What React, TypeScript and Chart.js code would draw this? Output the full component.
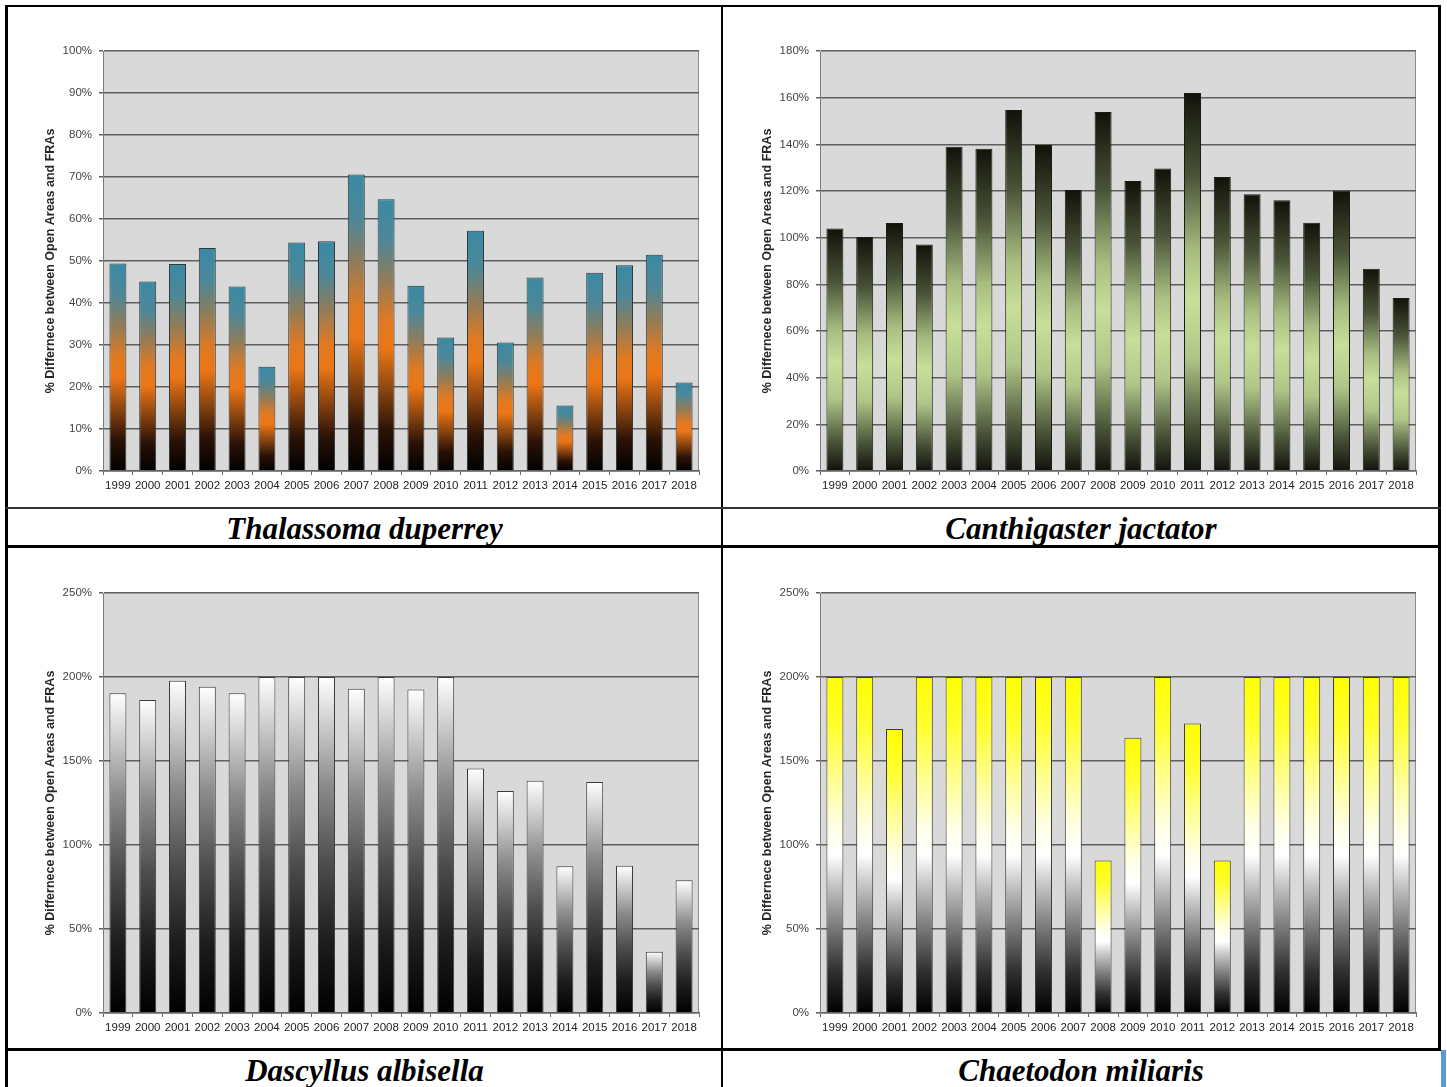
import React, { useEffect, useRef } from 'react';
import { Chart, registerables } from 'chart.js';

Chart.register(...registerables);

const YEARS = ['1999', '2000', '2001', '2002', '2003', '2004', '2005', '2006', '2007', '2008', '2009', '2010', '2011', '2012', '2013', '2014', '2015', '2016', '2017', '2018'];

const THALASSOMA = [49.4, 45.1, 49.3, 53.1, 43.9, 24.8, 54.4, 54.7, 70.6, 64.7, 44.1, 31.8, 57.2, 30.6, 46.1, 15.6, 47.2, 49.0, 51.5, 21.1];
const CANTHIGASTER = [103.9, 100.3, 106.3, 97.1, 139.0, 138.1, 154.7, 139.7, 120.4, 153.9, 124.3, 129.6, 162.0, 126.0, 118.6, 116.0, 106.4, 120.1, 86.7, 74.1];
const DASCYLLUS = [190.4, 186.3, 197.8, 194.2, 190.4, 200, 200, 200, 193.0, 200, 192.6, 200, 145.5, 132.1, 138.3, 87.4, 137.5, 87.6, 36.4, 79.0];
const CHAETODON = [200, 200, 169.0, 200, 200, 200, 200, 200, 200, 90.7, 163.8, 200, 172.3, 90.7, 200, 200, 200, 200, 200, 200];

const Y_TITLE = '% Differnece between Open Areas and FRAs';
const CAPTIONS = ['Thalassoma duperrey', 'Canthigaster jactator', 'Dascyllus albisella', 'Chaetodon miliaris'];
const Y_MAX = [100, 180, 250, 250];
const Y_STEP = [10, 20, 50, 50];

type Stop = [number, string];

const STOPS: Stop[][] = [
  [[0, '#000000'], [0.15, '#2b1206'], [0.3, '#8c450f'], [0.45, '#ec7616'], [0.55, '#e07a22'], [0.7, '#927c58'], [0.85, '#4c8798'], [1, '#3a8aa4']],
  [[0, '#10120c'], [0.12, '#4a5438'], [0.3, '#b0c688'], [0.45, '#c8df9a'], [0.58, '#a8bd80'], [0.78, '#4a5438'], [1, '#111209']],
  [[0, '#000000'], [0.22, '#1e1e1e'], [0.45, '#4e4e4e'], [0.68, '#8c8c8c'], [0.85, '#cacaca'], [1, '#ffffff']],
  [[0, '#000000'], [0.12, '#2e2e2e'], [0.25, '#777777'], [0.38, '#c4c4c4'], [0.47, '#ffffff'], [0.55, '#ffffe8'], [0.7, '#ffff90'], [0.85, '#ffff30'], [1, '#ffff00']],
];

const FONT = "'Liberation Sans', Arial, sans-serif";

const plotBg = {
  id: 'plotBg',
  beforeDraw(chart: any) {
    const { ctx, chartArea } = chart;
    if (!chartArea) return;
    ctx.save();
    ctx.fillStyle = '#d9d9d9';
    ctx.fillRect(chartArea.left, chartArea.top, chartArea.right - chartArea.left, chartArea.bottom - chartArea.top);
    ctx.strokeStyle = '#8c8c8c';
    ctx.lineWidth = 1;
    ctx.beginPath();
    ctx.moveTo(chartArea.right - 0.5, chartArea.top);
    ctx.lineTo(chartArea.right - 0.5, chartArea.bottom);
    ctx.stroke();
    ctx.restore();
  },
};

const makeBg = (stops: Stop[]) => (c: any) => {
  const chart = c.chart;
  const y = chart.scales && chart.scales.y;
  const fallback = stops[Math.floor(stops.length / 2)][1];
  if (!chart.chartArea || !y || c.type !== 'data') return fallback;
  const y0 = y.getPixelForValue(0);
  const y1 = y.getPixelForValue(c.raw);
  if (!isFinite(y0) || !isFinite(y1) || y0 === y1) return fallback;
  const g = chart.ctx.createLinearGradient(0, y0, 0, y1);
  stops.forEach(([o, col]) => g.addColorStop(o, col));
  return g;
};

interface Box { left: number; top: number; width: number; height: number }
interface Area { left: number; top: number; right: number; bottom: number }

function BarChart({ box, area, values, yMax, yStep, stops, borderColor }: { box: Box; area: Area; values: number[]; yMax: number; yStep: number; stops: Stop[]; borderColor: string }) {
  const ref = useRef<HTMLCanvasElement>(null);
  useEffect(() => {
    const canvas = ref.current!;
    const yWidth = area.left - box.left;
    const xHeight = box.top + box.height - area.bottom;
    const chart = new Chart(canvas, {
      type: 'bar',
      data: {
        labels: YEARS,
        datasets: [{
          data: values,
          backgroundColor: makeBg(stops) as any,
          borderColor,
          borderWidth: 1,
          barPercentage: 0.57,
          categoryPercentage: 1,
        }],
      },
      options: {
        animation: false,
        responsive: false,
        maintainAspectRatio: false,
        devicePixelRatio: 1,
        layout: { padding: { top: area.top - box.top, right: box.left + box.width - area.right, left: 0, bottom: 0 } },
        plugins: { legend: { display: false }, tooltip: { enabled: false } },
        scales: {
          x: {
            grid: { display: true, drawOnChartArea: false, drawTicks: true, tickLength: 4, color: '#666666', lineWidth: 1, offset: true },
            border: { display: true, color: '#666666', width: 1.5 },
            ticks: { font: { family: "'Liberation Sans Narrow', " + FONT, size: 11.5 }, color: '#222222', padding: 4, maxRotation: 0, minRotation: 0, autoSkip: false },
            afterFit: (s: any) => { s.height = xHeight; },
          },
          y: {
            min: 0,
            max: yMax,
            ticks: { stepSize: yStep, font: { family: FONT, size: 11.5 }, color: '#444444', padding: 7, callback: (v: any) => v + '%' },
            grid: { color: '#5f5f5f', lineWidth: 1.5, tickLength: 4, drawTicks: true },
            border: { display: true, color: '#808080', width: 1 },
            title: { display: true, text: Y_TITLE, font: { family: FONT, size: 12.5, weight: 'bold' }, color: '#262626', padding: { top: 35, bottom: 0 } },
            afterFit: (s: any) => { s.width = yWidth; },
          },
        },
      },
      plugins: [plotBg],
    } as any);
    return () => chart.destroy();
  }, []);
  return (
    <canvas
      ref={ref}
      width={box.width}
      height={box.height}
      style={{ position: 'absolute', left: box.left, top: box.top, width: box.width, height: box.height }}
    />
  );
}

const line = (left: number, top: number, width: number, height: number, color = '#000') => (
  <div style={{ position: 'absolute', left, top, width, height, background: color }} />
);

const captionStyle = (left: number, top: number, width: number, height: number): React.CSSProperties => ({
  position: 'absolute', left, top, width, height, display: 'flex', alignItems: 'center', justifyContent: 'center',
  fontFamily: "'Liberation Serif', 'Times New Roman', serif", fontWeight: 'bold', fontStyle: 'italic', fontSize: 31, color: '#000', lineHeight: 1,
});

export default function App() {
  const top = { top: 51, bottom: 471 };
  const bot = { top: 593, bottom: 1013 };
  return (
    <div style={{ position: 'fixed', left: 0, top: 0, width: 1447, height: 1087, background: '#fff', overflow: 'hidden' }}>
      <BarChart box={{ left: 8, top: 8, width: 712, height: 498 }} area={{ left: 103, right: 699, ...top }} values={THALASSOMA} yMax={Y_MAX[0]} yStep={Y_STEP[0]} stops={STOPS[0]} borderColor="#2f3a3e" />
      <BarChart box={{ left: 725, top: 8, width: 712, height: 498 }} area={{ left: 820, right: 1416, ...top }} values={CANTHIGASTER} yMax={Y_MAX[1]} yStep={Y_STEP[1]} stops={STOPS[1]} borderColor="#1a1c14" />
      <BarChart box={{ left: 8, top: 551, width: 712, height: 496 }} area={{ left: 103, right: 699, ...bot }} values={DASCYLLUS} yMax={Y_MAX[2]} yStep={Y_STEP[2]} stops={STOPS[2]} borderColor="#3c3c3c" />
      <BarChart box={{ left: 725, top: 551, width: 712, height: 496 }} area={{ left: 820, right: 1416, ...bot }} values={CHAETODON} yMax={Y_MAX[3]} yStep={Y_STEP[3]} stops={STOPS[3]} borderColor="#3c3c3c" />

      <div style={captionStyle(8, 510, 713, 36)}>{CAPTIONS[0]}</div>
      <div style={captionStyle(724, 510, 714, 36)}>{CAPTIONS[1]}</div>
      <div style={captionStyle(8, 1052, 713, 36)}>{CAPTIONS[2]}</div>
      <div style={captionStyle(724, 1052, 714, 36)}>{CAPTIONS[3]}</div>

      {line(5, 5, 1436, 2)}
      {line(5, 5, 3, 1082)}
      {line(721, 5, 2, 1082)}
      {line(1438, 5, 3, 1045)}
      {line(5, 507, 1436, 2, '#333')}
      {line(5, 545, 1436, 3)}
      {line(5, 1048, 1436, 3)}
      {line(1441, 1050, 5, 37, '#5b9bd5')}
    </div>
  );
}
